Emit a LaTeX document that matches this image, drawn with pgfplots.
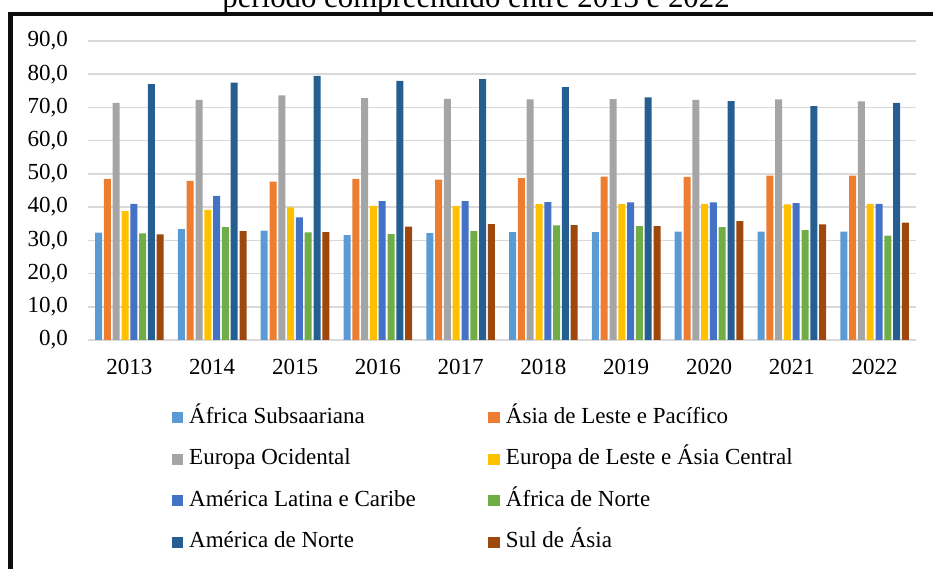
\documentclass[border=0pt]{standalone}
\usepackage{fontspec}
\setmainfont{Liberation Serif}
\usepackage{pgfplots}
\usepackage{pgfplotstable}
\pgfplotsset{compat=1.18}

\definecolor{cAS}{HTML}{5B9BD5}
\definecolor{cEA}{HTML}{ED7D31}
\definecolor{cWE}{HTML}{A5A5A5}
\definecolor{cEE}{HTML}{FFC000}
\definecolor{cLA}{HTML}{4472C4}
\definecolor{cNA}{HTML}{70AD47}
\definecolor{cAN}{HTML}{255E91}
\definecolor{cSA}{HTML}{9E480E}
\definecolor{gridc}{HTML}{D9D9D9}
\definecolor{framec}{HTML}{0D0D0D}

% Regional values, 2013--2022
\pgfplotstableread{
ano  afs   eap   weu   eca   lac   afn   nam   sas
2013 32.3  48.5  71.4  38.8  41.0  32.1  77.0  31.8
2014 33.4  47.9  72.3  39.2  43.4  34.0  77.5  32.8
2015 32.9  47.7  73.6  39.9  36.9  32.4  79.5  32.5
2016 31.6  48.5  72.8  40.4  41.8  31.9  78.0  34.1
2017 32.2  48.3  72.6  40.4  41.8  32.8  78.5  34.9
2018 32.5  48.7  72.4  40.9  41.5  34.5  76.1  34.6
2019 32.5  49.2  72.5  40.9  41.4  34.3  73.0  34.3
2020 32.6  49.1  72.3  41.0  41.4  34.0  71.9  35.8
2021 32.6  49.5  72.4  40.8  41.2  33.1  70.4  34.8
2022 32.6  49.5  71.8  41.0  41.0  31.4  71.4  35.3
}\datatable

\newcommand{\lblfont}{\fontsize{11.5bp}{13.8bp}\selectfont}

\begin{document}
\begin{tikzpicture}
\useasboundingbox (0,0) rectangle (466.5bp,284.5bp);

% caption line above the frame
\node[anchor=base, inner sep=0pt, font=\fontsize{15.4bp}{18bp}\selectfont]
  at (238bp,280.85bp) {período compreendido entre 2013 e 2022};

% frame
\draw[framec, line width=1.7bp] (4.15bp,277.5bp) -- (470bp,277.5bp);
\draw[framec, line width=2.5bp] (5.4bp,278.35bp) -- (5.4bp,-5bp);

\begin{axis}[
  at={(44bp,114.5bp)}, anchor=south west,
  scale only axis,
  width=414bp, height=149.5bp,
  ybar=0.9bp, bar width=3.5bp,
  xmin=-0.5, xmax=9.5,
  ymin=0, ymax=90,
  ytick={0,10,...,90},
  xtick={0,...,9},
  xticklabels={2013,2014,2015,2016,2017,2018,2019,2020,2021,2022},
  ymajorgrids,
  grid style={draw=gridc, line width=0.8bp},
  axis line style={draw=none},
  tick style={draw=none},
  major tick length=0pt,
  /pgf/number format/.cd, fixed, fixed zerofill, precision=1, use comma, assume math mode=true,
  /pgfplots/.cd,
  tick label style={font=\lblfont, inner sep=0pt},
  yticklabel style={anchor=east},
  xticklabel style={anchor=north},
  yticklabel shift=9.85bp,
  xticklabel shift=9.5bp,
  legend columns=2,
  legend image code/.code={\fill[#1] (0bp,0bp) rectangle (5.8bp,5.6bp);},
  legend style={
    at={(0.10097,-0.2184)}, anchor=north west,
    draw=none, fill=none, inner sep=0pt, outer sep=0pt,
    font=\lblfont,
    cells={anchor=base west},
    nodes={inner sep=0pt, text height=9bp, text depth=3bp},
    column sep=3bp,
    row sep=8.75bp,
    /tikz/every even column/.append style={column sep=36.25bp},
  },
]
\addplot[fill=cAS, draw=none] table[x expr=\coordindex, y=afs] {\datatable};
\addlegendentry{África Subsaariana}
\addplot[fill=cEA, draw=none] table[x expr=\coordindex, y=eap] {\datatable};
\addlegendentry{Ásia de Leste e Pacífico}
\addplot[fill=cWE, draw=none] table[x expr=\coordindex, y=weu] {\datatable};
\addlegendentry{Europa Ocidental}
\addplot[fill=cEE, draw=none] table[x expr=\coordindex, y=eca] {\datatable};
\addlegendentry{Europa de Leste e Ásia Central}
\addplot[fill=cLA, draw=none] table[x expr=\coordindex, y=lac] {\datatable};
\addlegendentry{América Latina e Caribe}
\addplot[fill=cNA, draw=none] table[x expr=\coordindex, y=afn] {\datatable};
\addlegendentry{África de Norte}
\addplot[fill=cAN, draw=none] table[x expr=\coordindex, y=nam] {\datatable};
\addlegendentry{América de Norte}
\addplot[fill=cSA, draw=none] table[x expr=\coordindex, y=sas] {\datatable};
\addlegendentry{Sul de Ásia}
\end{axis}
\end{tikzpicture}
\end{document}
